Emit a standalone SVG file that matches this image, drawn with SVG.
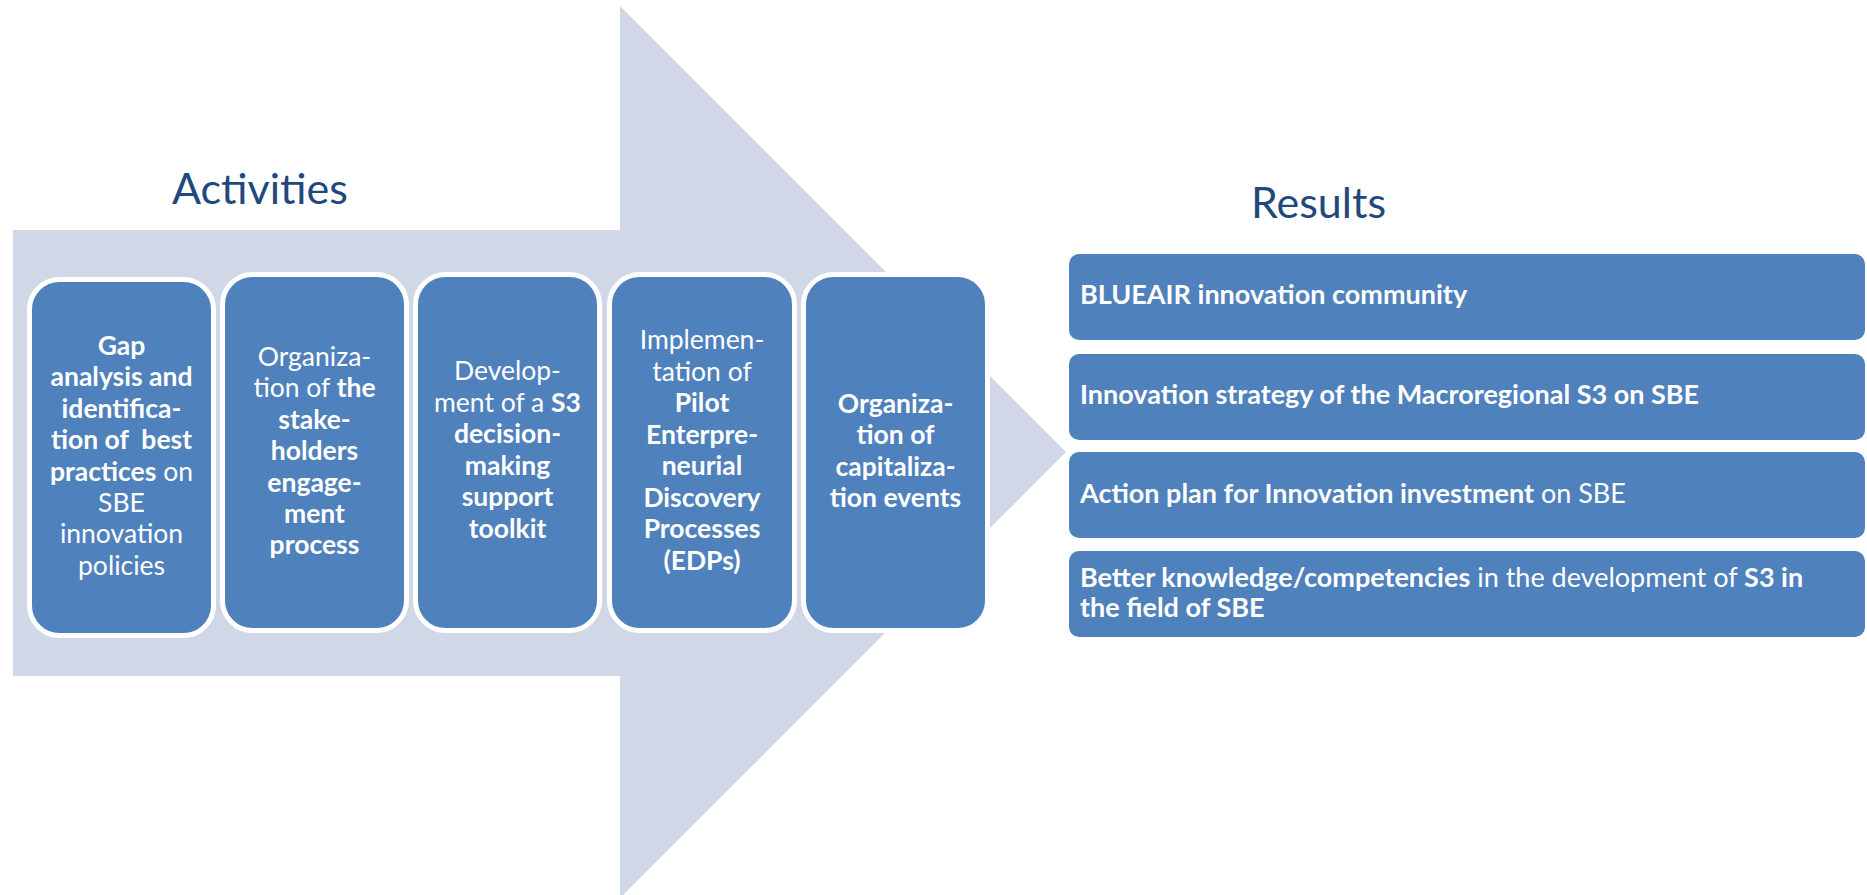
<svg xmlns="http://www.w3.org/2000/svg" width="1867" height="895" viewBox="0 0 1867 895">
<style>
.bg{fill:#ffffff}
.arrow{fill:#D0D8E8}
.act{fill:#4F81BD;stroke:#ffffff;stroke-width:5}
.res{fill:#4F81BD}
.t{font-family:Lato,"Liberation Sans",sans-serif;fill:#ffffff;font-size:26.5px;text-anchor:middle}
.rt{font-family:Lato,"Liberation Sans",sans-serif;fill:#ffffff;font-size:27px;font-weight:bold}
.b{font-weight:bold}
.n{font-weight:normal}
.h{font-family:Lato,"Liberation Sans",sans-serif;fill:#1F497D;font-size:43px}
</style>
<rect class="bg" x="0" y="0" width="1867" height="895"/>
<polygon class="arrow" points="13,230 620,230 620,6 1066,452 620,898 620,676 13,676"/>
<text class="h" x="172" y="204">Activities</text>
<text class="h" x="1251" y="218">Results</text>
<g id="act1">
<rect class="act" x="29.5" y="279.5" width="184" height="356" rx="30"/>
<text class="t" xml:space="preserve"><tspan class="b" x="121.5" y="355">Gap</tspan><tspan class="b" x="121.5" y="386.4">analysis and</tspan><tspan class="b" x="121.5" y="417.8">identifica-</tspan><tspan class="b" x="121.5" y="449.2">tion of  best</tspan><tspan x="121.5" y="480.6"><tspan class="b">practices</tspan> on</tspan><tspan x="121.5" y="512">SBE</tspan><tspan x="121.5" y="543.4">innovation</tspan><tspan x="121.5" y="574.8">policies</tspan></text>
</g>
<g id="act2">
<rect class="act" x="222.5" y="274.5" width="184" height="356" rx="30"/>
<text class="t"><tspan x="314.5" y="366">Organiza-</tspan><tspan x="314.5" y="397.4">tion of <tspan class="b">the</tspan></tspan><tspan class="b" x="314.5" y="428.8">stake-</tspan><tspan class="b" x="314.5" y="460.2">holders</tspan><tspan class="b" x="314.5" y="491.6">engage-</tspan><tspan class="b" x="314.5" y="523">ment</tspan><tspan class="b" x="314.5" y="554.4">process</tspan></text>
</g>
<g id="act3">
<rect class="act" x="415.5" y="274.5" width="184" height="356" rx="30"/>
<text class="t"><tspan x="507.5" y="380">Develop-</tspan><tspan x="507.5" y="411.5">ment of a <tspan class="b">S3</tspan></tspan><tspan class="b" x="507.5" y="443">decision-</tspan><tspan class="b" x="507.5" y="474.5">making</tspan><tspan class="b" x="507.5" y="506">support</tspan><tspan class="b" x="507.5" y="537.5">toolkit</tspan></text>
</g>
<g id="act4">
<rect class="act" x="609.5" y="274.5" width="185" height="356" rx="30"/>
<text class="t"><tspan x="702" y="349.3">Implemen-</tspan><tspan x="702" y="380.8">tation of</tspan><tspan class="b" x="702" y="412.3">Pilot</tspan><tspan class="b" x="702" y="443.8">Enterpre-</tspan><tspan class="b" x="702" y="475.3">neurial</tspan><tspan class="b" x="702" y="506.8">Discovery</tspan><tspan class="b" x="702" y="538.3">Processes</tspan><tspan class="b" x="702" y="569.8">(EDPs)</tspan></text>
</g>
<g id="act5">
<rect class="act" x="803.5" y="274.5" width="184" height="356" rx="30"/>
<text class="t b"><tspan x="895.5" y="412.7">Organiza-</tspan><tspan x="895.5" y="444.1">tion of</tspan><tspan x="895.5" y="475.5">capitaliza-</tspan><tspan x="895.5" y="506.9">tion events</tspan></text>
</g>
<g id="res1">
<rect class="res" x="1069" y="254" width="796" height="86" rx="10"/>
<text class="rt" x="1080" y="304.3">BLUEAIR innovation community</text>
</g>
<g id="res2">
<rect class="res" x="1069" y="354" width="796" height="86" rx="10"/>
<text class="rt" x="1080" y="404">Innovation strategy of the Macroregional S3 on SBE</text>
</g>
<g id="res3">
<rect class="res" x="1069" y="452" width="796" height="86" rx="10"/>
<text class="rt" x="1080" y="503">Action plan for Innovation investment<tspan class="n"> on SBE</tspan></text>
</g>
<g id="res4">
<rect class="res" x="1069" y="551" width="796" height="86" rx="10"/>
<text class="rt"><tspan x="1080" y="586.7">Better knowledge/competencies<tspan class="n"> in the development of </tspan>S3 in</tspan><tspan x="1080" y="616.7">the field of SBE</tspan></text>
</g>
<g id="connectors"></g>
</svg>
